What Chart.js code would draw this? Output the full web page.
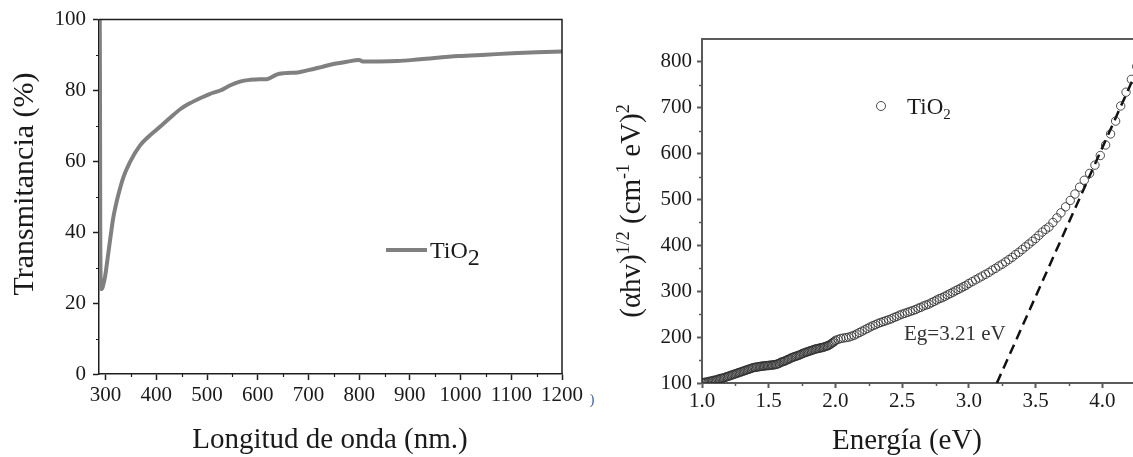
<!DOCTYPE html>
<html>
<head>
<meta charset="utf-8">
<script src="https://cdn.jsdelivr.net/npm/chart.js@4.4.1/dist/chart.umd.min.js"></script>
<style>
  html, body { margin: 0; padding: 0; background: #fff; overflow: hidden; width: 1133px; height: 457px; }
  #transChart { position: absolute; left: 0; top: 0; }
  #taucChart  { position: absolute; left: 595px; top: 0; }
</style>
</head>
<body>
<canvas id="transChart" width="595" height="457"></canvas>
<canvas id="taucChart" width="600" height="457"></canvas>
<script>
// ---------------------------------------------------------------------------
// Data
// ---------------------------------------------------------------------------

// Transmittance spectrum of the TiO2 film
const waveNm = [
  288.5, 289, 289.5, 291, 293, 296, 299, 305, 310, 315,
  320, 325, 335, 348, 368, 385, 401, 425, 447, 465,
  486, 505, 526, 545, 565, 585, 604, 618, 628, 637,
  653, 679, 702, 725, 747, 775, 800, 807, 840, 875,
  920, 996, 1050, 1102, 1150, 1200
];
const transPct = [
  100, 80, 40, 24, 24, 25.5, 27.5, 33.7, 39, 44,
  47.5, 50.5, 55.5, 59.8, 64.5, 67, 69, 72, 74.7, 76.3,
  77.8, 79, 80, 81.4, 82.5, 83, 83.2, 83.2, 83.8, 84.5,
  84.9, 85.1, 85.8, 86.6, 87.4, 88.1, 88.6, 88.2, 88.2, 88.3,
  88.8, 89.7, 90.1, 90.5, 90.8, 91
];

// Tauc plot: (alpha h nu)^1/2 against photon energy
const energyEv = [
  1.00, 1.01, 1.02, 1.03, 1.04, 1.05, 1.06, 1.07, 1.08, 1.09,
  1.10, 1.11, 1.12, 1.13, 1.14, 1.15, 1.16, 1.17, 1.18, 1.19,
  1.20, 1.21, 1.22, 1.23, 1.24, 1.25, 1.26, 1.27, 1.28, 1.29,
  1.30, 1.31, 1.32, 1.33, 1.34, 1.35, 1.36, 1.37, 1.38, 1.39,
  1.40, 1.41, 1.42, 1.43, 1.44, 1.45, 1.46, 1.47, 1.48, 1.49,
  1.50, 1.51, 1.52, 1.53, 1.54, 1.55, 1.56, 1.57, 1.58, 1.59,
  1.60, 1.61, 1.62, 1.63, 1.64, 1.65, 1.66, 1.67, 1.68, 1.69,
  1.70, 1.71, 1.72, 1.73, 1.74, 1.75, 1.76, 1.77, 1.78, 1.79,
  1.80, 1.81, 1.82, 1.83, 1.84, 1.85, 1.86, 1.87, 1.88, 1.89,
  1.90, 1.91, 1.92, 1.93, 1.94, 1.95, 1.96, 1.97, 1.98, 1.99,
  2.00, 2.02, 2.04, 2.06, 2.08, 2.10, 2.12, 2.14, 2.16, 2.18,
  2.20, 2.22, 2.24, 2.26, 2.28, 2.30, 2.32, 2.34, 2.36, 2.38,
  2.40, 2.42, 2.44, 2.46, 2.48, 2.50, 2.52, 2.54, 2.56, 2.58,
  2.60, 2.62, 2.64, 2.66, 2.68, 2.70, 2.72, 2.74, 2.76, 2.78,
  2.80, 2.82, 2.84, 2.86, 2.88, 2.90, 2.92, 2.94, 2.96, 2.98,
  3.00, 3.025, 3.05, 3.075, 3.10, 3.125, 3.15, 3.175, 3.20, 3.225,
  3.25, 3.275, 3.30, 3.325, 3.35, 3.375, 3.40, 3.425, 3.45, 3.475,
  3.50, 3.525, 3.55, 3.575, 3.60, 3.63, 3.66, 3.69, 3.725, 3.76,
  3.795, 3.83, 3.865, 3.905, 3.945, 3.985, 4.025, 4.062, 4.10, 4.138,
  4.178, 4.218, 4.258
];
const taucVal = [
  100, 101, 101, 102, 102, 103, 104, 104, 105, 106,
  106, 107, 108, 109, 110, 110, 111, 112, 113, 114,
  115, 116, 117, 118, 119, 120, 121, 122, 123, 124,
  125, 126, 127, 128, 129, 130, 131, 132, 133, 134,
  134, 135, 135, 136, 136, 137, 137, 137, 138, 138,
  138, 139, 139, 139, 140, 140, 141, 142, 143, 145,
  146, 147, 148, 149, 151, 152, 153, 155, 156, 157,
  158, 159, 160, 161, 162, 164, 165, 166, 167, 168,
  169, 170, 171, 172, 173, 174, 175, 175, 176, 177,
  177, 178, 179, 180, 181, 182, 184, 186, 188, 190,
  193, 195, 197, 198, 199, 200, 202, 204, 207, 210,
  213, 216, 219, 222, 225, 227, 230, 232, 234, 236,
  238, 240, 243, 245, 248, 250, 252, 254, 256, 258,
  260, 263, 265, 268, 270, 272, 275, 278, 281, 284,
  286, 289, 292, 295, 298, 301, 304, 307, 310, 313,
  317, 321, 325, 329, 333, 337, 341, 346, 350, 355,
  359, 364, 369, 374, 380, 385, 391, 397, 403, 409,
  415, 422, 429, 435, 440, 450, 460, 471, 484, 498,
  512, 527, 542, 557, 575, 596, 619, 643, 671, 704,
  734, 762, 790
];

// Linear extrapolation giving the band gap
const egLineX = [3.21, 4.365];
const egLineY = [100, 850];

// Tick values
const transTicksX = [300, 400, 500, 600, 700, 800, 900, 1000, 1100, 1200];
const transTicksY = [0, 20, 40, 60, 80, 100];
const taucTicksX  = [1.0, 1.5, 2.0, 2.5, 3.0, 3.5, 4.0, 4.5];
const taucTicksY  = [100, 200, 300, 400, 500, 600, 700, 800];

// ---------------------------------------------------------------------------
// Helpers
// ---------------------------------------------------------------------------

const SERIF = "'Liberation Serif', 'Times New Roman', serif";
Chart.defaults.font.family = SERIF;

function midpoints(list) {
  const out = [];
  for (let i = 0; i < list.length - 1; i++) out.push((list[i] + list[i + 1]) / 2);
  return out;
}

function fixTicks(values) {
  return function (scale) { scale.ticks = values.map(v => ({ value: v })); };
}

// Draws a run of text pieces (with sub/superscripts) on one baseline
function drawRich(ctx, item) {
  ctx.save();
  ctx.translate(item.x, item.y);
  if (item.rot) ctx.rotate(item.rot);
  ctx.fillStyle = item.color || '#1a1a1a';
  ctx.textBaseline = 'alphabetic';
  ctx.textAlign = 'left';
  let w = 0;
  item.parts.forEach(p => {
    ctx.font = p.size + 'px ' + SERIF;
    p.w = ctx.measureText(p.text).width;
    w += p.w;
  });
  let cx = item.align === 'left' ? 0 : -w / 2;
  item.parts.forEach(p => {
    ctx.font = p.size + 'px ' + SERIF;
    ctx.fillText(p.text, cx, p.dy || 0);
    cx += p.w;
  });
  ctx.restore();
}

// Box frame (top/right), minor ticks, legends and free text
const decorPlugin = {
  id: 'decor',
  afterDraw(chart, args, opts) {
    const { ctx, chartArea: a, scales: { x, y } } = chart;
    ctx.save();
    ctx.strokeStyle = opts.color;
    ctx.lineWidth = opts.width;
    ctx.beginPath();
    ctx.moveTo(a.left, a.top);
    ctx.lineTo(a.right, a.top);
    ctx.lineTo(a.right, a.bottom);
    ctx.stroke();

    ctx.lineWidth = opts.minorWidth;
    ctx.beginPath();
    opts.minorX.forEach(v => {
      const px = Math.round(x.getPixelForValue(v)) + 0.5;
      ctx.moveTo(px, a.bottom);
      ctx.lineTo(px, a.bottom + opts.minorLen);
    });
    opts.minorY.forEach(v => {
      const py = Math.round(y.getPixelForValue(v)) + 0.5;
      ctx.moveTo(a.left, py);
      ctx.lineTo(a.left - opts.minorLen, py);
    });
    ctx.stroke();

    if (opts.legend) opts.legend(ctx, chart);
    ctx.restore();
    (opts.texts || []).forEach(t => drawRich(ctx, t));
  }
};

function axisCommon(color, width, fontSize, tickLen, pad) {
  return {
    type: 'linear',
    ticks: { color: '#1a1a1a', font: { size: fontSize }, padding: pad, autoSkip: false, maxRotation: 0 },
    grid: { drawOnChartArea: false, drawTicks: true, tickLength: tickLen, tickColor: color, tickWidth: width },
    border: { color: color, width: width }
  };
}

// ---------------------------------------------------------------------------
// Transmittance line chart
// ---------------------------------------------------------------------------

function initTransChart(canvas) {
  const xAxis = axisCommon('#1e1e1e', 1.5, 21, 6, 3);
  Object.assign(xAxis, {
    min: 287, max: 1200,
    afterBuildTicks: fixTicks(transTicksX),
    afterFit: s => { s.height = 83; }
  });
  xAxis.ticks.callback = v => String(v);

  const yAxis = axisCommon('#1e1e1e', 1.5, 21, 6, 7);
  Object.assign(yAxis, {
    min: 0, max: 100,
    afterBuildTicks: fixTicks(transTicksY),
    afterFit: s => { s.width = 99; }
  });
  yAxis.ticks.callback = v => String(v);

  new Chart(canvas.getContext('2d'), {
    type: 'line',
    data: {
      datasets: [{
        label: 'TiO2',
        data: waveNm.map((w, i) => ({ x: w, y: transPct[i] })),
        borderColor: '#808080',
        borderWidth: 4,
        pointRadius: 0,
        cubicInterpolationMode: 'monotone',
        fill: false
      }]
    },
    options: {
      responsive: false,
      animation: false,
      events: [],
      layout: { padding: { top: 16, right: 33, left: 0, bottom: 0 } },
      plugins: {
        legend: { display: false },
        tooltip: { enabled: false },
        decor: {
          color: '#1e1e1e', width: 1.5, minorWidth: 1.2, minorLen: 3,
          minorX: midpoints(transTicksX),
          minorY: midpoints(transTicksY),
          legend: function (ctx) {
            ctx.strokeStyle = '#808080';
            ctx.lineWidth = 4;
            ctx.beginPath();
            ctx.moveTo(386, 250);
            ctx.lineTo(427, 250);
            ctx.stroke();
          },
          texts: [
            { parts: [{ text: 'Longitud de onda (nm.)', size: 29 }], x: 330, y: 448 },
            { parts: [{ text: 'Transmitancia (%)', size: 30 }], x: 33, y: 184, rot: -Math.PI / 2 },
            { parts: [{ text: 'TiO', size: 24 }, { text: '2', size: 24, dy: 7 }], x: 430, y: 258, align: 'left' },
            { parts: [{ text: ')', size: 14 }], x: 592, y: 404, color: '#3a5a9a' }
          ]
        }
      },
      scales: { x: xAxis, y: yAxis }
    },
    plugins: [decorPlugin]
  });
}

// ---------------------------------------------------------------------------
// Tauc plot (scatter + dashed extrapolation)
// ---------------------------------------------------------------------------

function initTaucChart(canvas) {
  const xAxis = axisCommon('#5a5a5a', 2, 21, 5, 1);
  Object.assign(xAxis, {
    min: 1.0, max: 4.5,
    afterBuildTicks: fixTicks(taucTicksX),
    afterFit: s => { s.height = 74; }
  });
  xAxis.ticks.callback = v => Number(v).toFixed(1);

  const yAxis = axisCommon('#5a5a5a', 2, 21, 5, 5);
  Object.assign(yAxis, {
    min: 100, max: 850,
    afterBuildTicks: fixTicks(taucTicksY),
    afterFit: s => { s.width = 107; }
  });
  yAxis.ticks.callback = v => String(v);

  new Chart(canvas.getContext('2d'), {
    type: 'scatter',
    data: {
      datasets: [
        {
          label: 'TiO2',
          data: energyEv.map((e, i) => ({ x: e, y: taucVal[i] })),
          showLine: false,
          pointStyle: 'circle',
          pointRadius: 4.2,
          pointBorderWidth: 1,
          pointBorderColor: 'rgba(45, 45, 45, 0.85)',
          pointBackgroundColor: 'rgba(255, 255, 255, 0)'
        },
        {
          label: 'Eg',
          type: 'line',
          data: egLineX.map((e, i) => ({ x: e, y: egLineY[i] })),
          borderColor: '#111',
          borderWidth: 2.5,
          borderDash: [10, 6],
          pointRadius: 0,
          fill: false
        }
      ]
    },
    options: {
      responsive: false,
      animation: false,
      events: [],
      layout: { padding: { top: 39, right: 26, left: 0, bottom: 0 } },
      plugins: {
        legend: { display: false },
        tooltip: { enabled: false },
        decor: {
          color: '#5a5a5a', width: 2, minorWidth: 1.5, minorLen: 3,
          minorX: midpoints(taucTicksX),
          minorY: midpoints(taucTicksY),
          legend: function (ctx) {
            ctx.strokeStyle = 'rgba(45, 45, 45, 0.85)';
            ctx.lineWidth = 1;
            ctx.beginPath();
            ctx.arc(286, 106, 4.5, 0, Math.PI * 2);
            ctx.stroke();
          },
          texts: [
            { parts: [{ text: 'Energía (eV)', size: 29 }], x: 312, y: 449 },
            {
              parts: [
                { text: '(αhv)', size: 29 }, { text: '1/2', size: 18, dy: -11 },
                { text: ' (cm', size: 29 }, { text: '-1', size: 18, dy: -11 },
                { text: ' eV)', size: 29 }, { text: '2', size: 18, dy: -11 }
              ],
              x: 45, y: 211, rot: -Math.PI / 2
            },
            { parts: [{ text: 'TiO', size: 23 }, { text: '2', size: 15, dy: 5 }], x: 312, y: 114, align: 'left' },
            { parts: [{ text: 'Eg=3.21 eV', size: 21 }], x: 309, y: 340, align: 'left', color: '#333' }
          ]
        }
      },
      scales: { x: xAxis, y: yAxis }
    },
    plugins: [decorPlugin]
  });
}

initTransChart(document.getElementById('transChart'));
initTaucChart(document.getElementById('taucChart'));
</script>
</body>
</html>
